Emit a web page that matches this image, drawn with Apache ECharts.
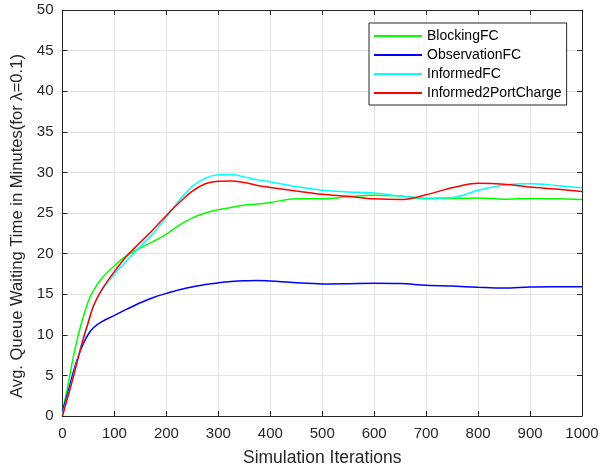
<!DOCTYPE html>
<html>
<head>
<meta charset="utf-8">
<script src="https://cdn.jsdelivr.net/npm/echarts@6/dist/echarts.min.js"></script>
<style>
html,body{margin:0;padding:0;background:#fff;}
#c{width:616px;height:472px;}
</style>
</head>
<body>
<div id="c"></div>
<script>
const xs = [0,10,20,30,40,50,60,75,100,125,150,175,200,225,250,275,300,325,350,375,400,450,500,550,600,650,700,750,800,850,900,950,1000];
const blockingFC = [0.5,3.6,7.0,9.9,12.2,14.2,15.5,16.9,18.5,19.8,20.7,21.5,22.4,23.5,24.4,25.0,25.4,25.7,25.95,26.1,26.3,26.75,26.75,27.0,27.2,27.1,26.75,26.8,26.85,26.7,26.8,26.75,26.65];
const observationFC = [0.6,2.8,5.2,7.3,8.9,10.1,10.9,11.6,12.4,13.2,13.95,14.6,15.1,15.55,15.9,16.2,16.4,16.55,16.65,16.7,16.62,16.4,16.27,16.3,16.35,16.32,16.1,16.0,15.85,15.75,15.88,15.92,15.93];
const informedFC = [0.2,2.4,4.7,7.2,9.6,11.7,13.6,15.4,17.5,19.2,20.9,22.5,24.5,26.6,28.3,29.3,29.7,29.75,29.45,29.1,28.85,28.25,27.8,27.6,27.45,27.1,26.85,26.9,27.8,28.45,28.6,28.4,28.1];
const informed2PortCharge = [0,2.3,4.6,7.1,9.5,11.6,13.6,15.5,17.8,19.8,21.4,23.0,24.7,26.3,27.7,28.6,28.9,28.95,28.75,28.4,28.15,27.7,27.3,27.05,26.75,26.65,27.25,28.1,28.65,28.55,28.2,27.95,27.65];
const seriesNames = ['BlockingFC','ObservationFC','InformedFC','Informed2PortCharge'];
const seriesColors = ['#00ff00','#0000ff','#00ffff','#ff0000'];
const seriesValues = [blockingFC, observationFC, informedFC, informed2PortCharge];
const xTicks = {min:0, max:1000, interval:100};
const yTicks = {min:0, max:50, interval:5};
const xTitle = 'Simulation Iterations';
const yTitle = 'Avg. Queue Waiting Time in Minutes(for \u03bb=0.1)';

const FONT = '"Liberation Sans", Arial, Helvetica, sans-serif';
const AX = '#262626';
const chart = echarts.init(document.getElementById('c'), null, {renderer:'canvas'});

function baseAxis(extra){
  return Object.assign({
    type:'value',
    axisLine:{show:true, onZero:false, lineStyle:{color:AX, width:1}},
    axisTick:{show:true, inside:true, length:5, lineStyle:{color:AX, width:1}},
    axisLabel:{color:AX, fontSize:15, fontFamily:FONT, formatter:(v)=>String(v)},
    splitLine:{show:false}
  }, extra);
}

chart.setOption({
  animation:false,
  backgroundColor:'#fff',
  grid:{left:62.5, right:34, top:10, bottom:54, containLabel:false},
  xAxis:[
    baseAxis(Object.assign({}, xTicks, {position:'bottom',
      name:xTitle, nameLocation:'middle', nameGap:33,
      nameTextStyle:{color:AX, fontSize:17.5, fontFamily:FONT},
      axisLabel:{color:AX, fontSize:15, fontFamily:FONT, margin:10, formatter:(v)=>String(v)},
      splitLine:{show:true, lineStyle:{color:'#e3e3e3', width:1}}})),
    baseAxis(Object.assign({}, xTicks, {position:'top', axisLabel:{show:false}}))
  ],
  yAxis:[
    baseAxis(Object.assign({}, yTicks, {position:'left',
      name:yTitle, nameLocation:'middle', nameGap:19,
      nameTextStyle:{color:AX, fontSize:16.6, fontFamily:FONT, padding:[0,26,0,0]},
      axisLabel:{color:AX, fontSize:15, fontFamily:FONT, margin:9, formatter:(v)=>String(v)},
      splitLine:{show:true, lineStyle:{color:'#e3e3e3', width:1}}})),
    baseAxis(Object.assign({}, yTicks, {position:'right', axisLabel:{show:false}}))
  ],
  legend:{
    orient:'vertical', left:369, top:23,
    padding:[5,5,4,5], itemGap:3, itemWidth:48, itemHeight:2, icon:'rect',
    borderColor:AX, borderWidth:1, backgroundColor:'#fff',
    textStyle:{color:'#000', fontSize:14, fontFamily:FONT, lineHeight:16},
    data:seriesNames
  },
  series: seriesNames.map((n,i)=>({
    name:n, type:'line', xAxisIndex:0, yAxisIndex:0,
    data: xs.map((x,j)=>[x, seriesValues[i][j]]),
    smooth:0.35, symbol:'none', showSymbol:false,
    lineStyle:{color:seriesColors[i], width:1.5},
    itemStyle:{color:seriesColors[i]}
  }))
});
</script>
</body>
</html>
